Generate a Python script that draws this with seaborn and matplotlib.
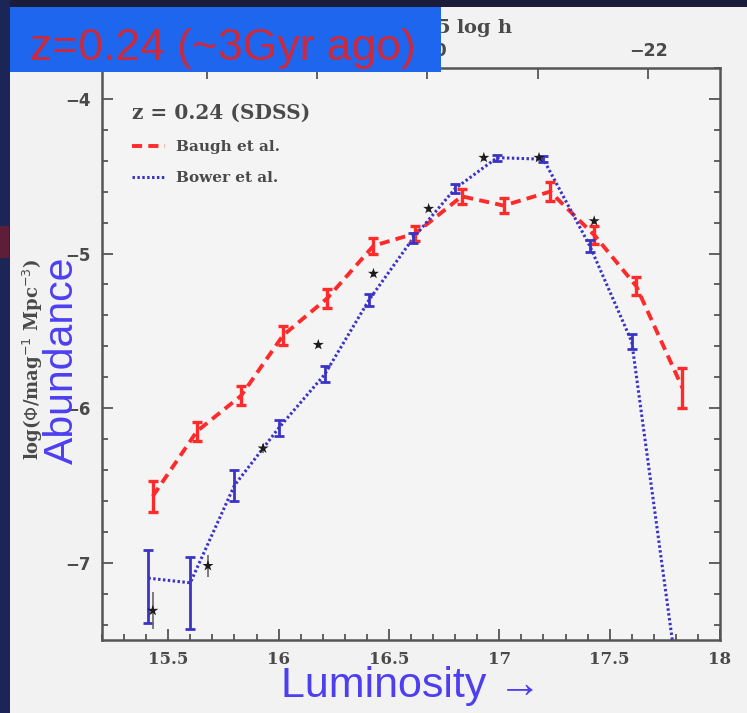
import matplotlib
matplotlib.use("Agg")
import matplotlib.pyplot as plt
from matplotlib.patches import Rectangle
from matplotlib.ticker import MultipleLocator, FixedLocator
import seaborn as sns
import pandas as pd
import numpy as np

# --- model luminosity functions at z = 0.24 ---
baugh_x = [15.43, 15.63, 15.83, 16.02, 16.22, 16.43, 16.62, 16.83, 17.02, 17.23, 17.43, 17.62, 17.83]
baugh_y = [-6.57, -6.15, -5.92, -5.53, -5.29, -4.95, -4.87, -4.63, -4.69, -4.60, -4.88, -5.21, -5.87]
baugh_err = [0.10, 0.06, 0.06, 0.06, 0.06, 0.05, 0.05, 0.05, 0.05, 0.06, 0.06, 0.06, 0.13]

bower_x = [15.41, 15.60, 15.80, 16.00, 16.21, 16.41, 16.61, 16.80, 16.99, 17.20, 17.41, 17.60, 17.80]
bower_y = [-7.10, -7.13, -6.50, -6.13, -5.78, -5.30, -4.90, -4.58, -4.38, -4.39, -4.95, -5.57, -7.67]
bower_err_lo = [0.29, 0.30, 0.10, 0.05, 0.05, 0.04, 0.03, 0.03, 0.02, 0.02, 0.04, 0.05, 0.0]
bower_err_hi = [0.18, 0.17, 0.10, 0.05, 0.05, 0.04, 0.03, 0.03, 0.02, 0.02, 0.04, 0.05, 0.0]

# --- SDSS measurements ---
sdss_x = [15.43, 15.68, 15.93, 16.18, 16.43, 16.68, 16.93, 17.18, 17.43]
sdss_y = [-7.31, -7.02, -6.26, -5.59, -5.13, -4.71, -4.38, -4.38, -4.79]
sdss_err = [0.12, 0.07, 0.03, 0.02, 0.02, 0.02, 0.02, 0.02, 0.02]

x_ticks = [15.5, 16, 16.5, 17, 17.5, 18]
x_ticklabels = ["15.5", "16", "16.5", "17", "17.5", "18"]
y_ticks = [-7, -6, -5, -4]
mag_ticks = [-22, -20, -18]
mag_minor = [-21, -19]

RED = "#ff2b2b"
BLUE = "#3b33c4"
SLIDE_BLUE = "#1f66ee"
TEXT_BLUE = "#4d3ff0"
INK = "#4a4a4a"

sns.set_theme(style="white")
plt.rcParams["font.family"] = ["DejaVu Serif", "DejaVu Sans"]

W, H = 747, 713
fig = plt.figure(figsize=(W / 100, H / 100), dpi=100, facecolor="#f2f2f3")
ax = fig.add_axes([102 / W, 1 - 640 / H, 618 / W, 572 / H])
ax.set_facecolor("#f4f4f5")

baugh = pd.DataFrame({"L": baugh_x, "phi": baugh_y})
bower = pd.DataFrame({"L": bower_x, "phi": bower_y})
sdss = pd.DataFrame({"L": sdss_x, "phi": sdss_y})

sns.lineplot(data=baugh, x="L", y="phi", ax=ax, color=RED, lw=2.8,
             linestyle=(0, (2.6, 1.6)), label="Baugh et al.", zorder=3)
sns.lineplot(data=bower, x="L", y="phi", ax=ax, color=BLUE, lw=2.2,
             linestyle=(0, (0.8, 0.8)), label="Bower et al.", zorder=3)

ax.errorbar(baugh_x, baugh_y, yerr=baugh_err, fmt="none", ecolor=RED,
            elinewidth=2.4, capsize=3.5, capthick=2.4, zorder=3)
ax.errorbar(bower_x, bower_y, yerr=[bower_err_lo, bower_err_hi], fmt="none",
            ecolor=BLUE, elinewidth=2.0, capsize=3.5, capthick=2.0, zorder=3)
ax.errorbar(sdss_x, sdss_y, yerr=sdss_err, fmt="none", ecolor="#666666",
            elinewidth=1.2, capsize=0, zorder=4)
sns.scatterplot(data=sdss, x="L", y="phi", ax=ax, marker="*", s=70,
                color="#1c1c1c", edgecolor="none", zorder=5, legend=False)

ax.set_xlim(15.2, 18.0)
ax.set_ylim(-7.5, -3.8)
ax.set_xlabel("")
ax.set_ylabel("")

ax.set_xticks(x_ticks)
ax.set_xticklabels(x_ticklabels)
ax.set_yticks(y_ticks)
ax.xaxis.set_minor_locator(MultipleLocator(0.1))
ax.yaxis.set_minor_locator(MultipleLocator(0.2))
ax.tick_params(which="both", direction="in", top=False, right=True,
               bottom=True, left=True, color="#555555", width=1.3)
ax.tick_params(which="major", length=8)
ax.tick_params(which="minor", length=4.5)
ax.tick_params(axis="x", which="major", pad=8, labelsize=12, labelcolor=INK)
ax.tick_params(axis="y", which="major", pad=8, labelsize=12, labelcolor=INK)
for lab in ax.get_xticklabels():
    lab.set_fontweight("bold")
for lab in ax.get_yticklabels():
    lab.set_fontfamily(["DejaVu Sans"])
    lab.set_fontweight("bold")
for sp in ax.spines.values():
    sp.set_color("#555555")
    sp.set_linewidth(1.8)

# magnitude scale along the top edge
def lum_to_mag(x):
    return -22 - 2 * (np.asarray(x) - 17.674)

def mag_to_lum(m):
    return 17.674 - (np.asarray(m) + 22) / 2

sec = ax.secondary_xaxis("top", functions=(lum_to_mag, mag_to_lum))
sec.xaxis.set_major_locator(FixedLocator(mag_ticks))
sec.xaxis.set_minor_locator(FixedLocator(mag_minor))
sec.set_xticklabels(["\u221222", "\u221220", "\u221218"])
sec.tick_params(which="both", direction="in", color="#555555", width=1.3,
                labelsize=12.5, labelcolor=INK, pad=6)
sec.tick_params(which="major", length=8)
sec.tick_params(which="minor", length=8)
for lab in sec.get_xticklabels():
    lab.set_fontfamily(["DejaVu Sans"])
    lab.set_fontweight("bold")
sec.spines["top"].set_visible(False)

leg = ax.legend(title="z = 0.24 (SDSS)", loc="upper left",
                bbox_to_anchor=(0.048, 0.94), frameon=False, alignment="left",
                borderpad=0, borderaxespad=0, handlelength=2.2,
                handletextpad=0.7, labelspacing=1.15,
                prop={"family": "DejaVu Serif", "weight": "bold", "size": 11})
leg.get_title().set_fontsize(14.5)
leg.get_title().set_fontweight("bold")
leg.get_title().set_color(INK)
for t in leg.get_texts():
    t.set_color(INK)

# axis titles
fig.text(33 / W, 1 - 360 / H, r"log($\Phi$/mag$^{-1}$ Mpc$^{-3}$)", rotation=90,
         ha="center", va="center", fontsize=13, fontweight="bold", color=INK)
fig.text(62 / W, 1 - 360 / H, "Abundance", rotation=90, ha="center", va="center",
         fontsize=29.5, color=TEXT_BLUE, family=["Liberation Sans", "DejaVu Sans"])
fig.text(411 / W, 1 - 697 / H, "Luminosity \u2192", ha="center", va="baseline",
         fontsize=31, color=TEXT_BLUE, family=["Liberation Sans", "DejaVu Sans"])
fig.text(513 / W, 1 - 30 / H, r"M$_{b_J}$ $-$ 5 log h", ha="right", va="center",
         fontsize=14, fontweight="bold", color=INK)

# slide frame and caption box
fig.patches.append(Rectangle((0, 1 - 7 / H), 1, 7 / H, transform=fig.transFigure,
                             facecolor="#1b1b3c", edgecolor="none", zorder=10))
fig.patches.append(Rectangle((0, 0), 10 / W, 1, transform=fig.transFigure,
                             facecolor="#1b2656", edgecolor="none", zorder=10))
fig.patches.append(Rectangle((0, 1 - 258 / H), 9 / W, 32 / H, transform=fig.transFigure,
                             facecolor="#5e1d38", edgecolor="none", zorder=11))
fig.patches.append(Rectangle((10 / W, 1 - 72 / H), 431 / W, 65 / H,
                             transform=fig.transFigure, facecolor=SLIDE_BLUE,
                             edgecolor="none", zorder=12))
fig.text(30 / W, 1 - 60 / H, "z=0.24 (~3Gyr ago)", ha="left", va="baseline",
         fontsize=32, color="#cc2a3c", family=["Liberation Sans", "DejaVu Sans"],
         zorder=13)

fig.savefig("out.png", dpi=100, facecolor=fig.get_facecolor())
